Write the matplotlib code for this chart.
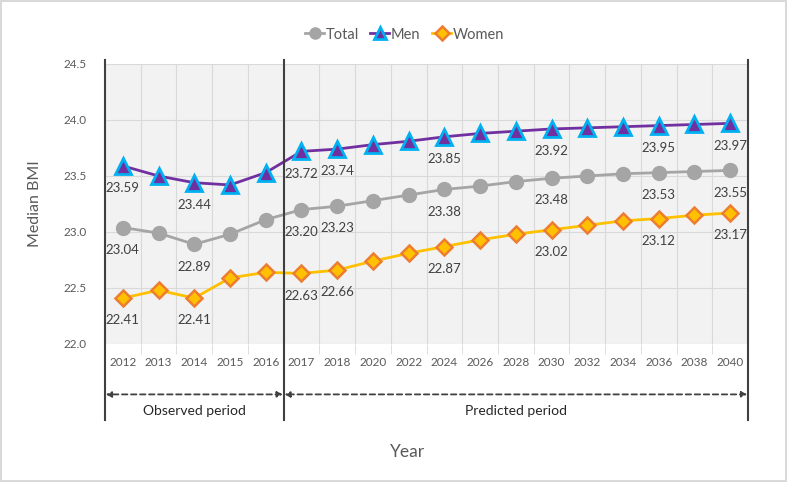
import matplotlib.pyplot as plt
import numpy as np

plt.rcParams['font.family'] = ['Lato', 'DejaVu Sans']

# data
years = ['2012', '2013', '2014', '2015', '2016', '2017', '2018', '2020', '2022',
         '2024', '2026', '2028', '2030', '2032', '2034', '2036', '2038', '2040']
total = [23.04, 22.99, 22.89, 22.98, 23.11, 23.20, 23.23, 23.28, 23.33,
         23.38, 23.41, 23.45, 23.48, 23.50, 23.52, 23.53, 23.54, 23.55]
men = [23.59, 23.50, 23.44, 23.42, 23.53, 23.72, 23.74, 23.78, 23.81,
       23.85, 23.88, 23.90, 23.92, 23.93, 23.94, 23.95, 23.96, 23.97]
women = [22.41, 22.48, 22.41, 22.59, 22.64, 22.63, 22.66, 22.74, 22.81,
         22.87, 22.93, 22.98, 23.02, 23.06, 23.10, 23.12, 23.15, 23.17]
labelled = ['2012', '2014', '2017', '2018', '2024', '2030', '2036', '2040']
n_observed = 5

fig = plt.figure(figsize=(7.87, 4.82), dpi=100)
fig.patch.set_edgecolor('#d9d9d9')
fig.patch.set_linewidth(1.5)
ax = fig.add_axes([105 / 787, 1 - 344 / 482, 643 / 787, 280 / 482])
ax.set_facecolor('#f2f2f2')

x = np.arange(len(years))
ax.plot(x, total, color='#a5a5a5', lw=2, marker='o', ms=10,
        mfc='#a5a5a5', mec='#a5a5a5', label='Total', zorder=3)
ax.plot(x, men, color='#7030a0', lw=2, marker='^', ms=11,
        mfc='#7030a0', mec='#00b0f0', mew=2, label='Men', zorder=4)
ax.plot(x, women, color='#ffc000', lw=2, marker='D', ms=8.5,
        mfc='#ffc000', mec='#ed7d31', mew=1.8, label='Women', zorder=3)

for series in (total, men, women):
    for i, yr in enumerate(years):
        if yr in labelled:
            ax.annotate(f'{series[i]:.2f}', (x[i], series[i]), xytext=(0, -16),
                        textcoords='offset points', ha='center', va='center',
                        fontsize=9.5, color='#404040', zorder=5)

ax.set_xlim(-0.5, len(years) - 0.5)
ax.set_ylim(22.0, 24.5)
ax.set_yticks(np.arange(22.0, 24.51, 0.5))
ax.set_yticklabels([f'{v:.1f}' for v in np.arange(22.0, 24.51, 0.5)])
ax.set_xticks(x)
ax.set_xticklabels(years)
ax.set_xticks(np.arange(-0.5, len(years)), minor=True)
ax.tick_params(axis='x', which='major', length=0, pad=9, labelsize=8.5, colors='#595959')
ax.tick_params(axis='x', which='minor', length=7, color='#d9d9d9')
ax.tick_params(axis='y', length=0, pad=13, labelsize=8.5, colors='#595959')
ax.grid(True, which='minor', axis='x', color='#d9d9d9', lw=0.8)
ax.grid(True, which='major', axis='y', color='#d9d9d9', lw=0.8)
ax.set_axisbelow(True)
for s in ax.spines.values():
    s.set_visible(False)

fig.text(35 / 787, 1 - 204 / 482, 'Median BMI', rotation=90, ha='center', va='center',
         fontsize=11.5, color='#595959')
fig.text(408 / 787, 1 - 452 / 482, 'Year', ha='center', va='center',
         fontsize=12.5, color='#595959')

# period separators and arrows
trans = ax.get_xaxis_transform()
for xv in (-0.5, n_observed - 0.5, len(years) - 0.5):
    ax.plot([xv, xv], [1.013, -0.27], transform=trans, color='#404040',
            lw=1.5, clip_on=False, zorder=6)
for x0, x1, txt in ((-0.5, n_observed - 0.5, 'Observed period'),
                    (n_observed - 0.5, len(years) - 0.5, 'Predicted period')):
    ax.annotate('', xy=(x0 + 0.02, -0.18), xytext=(x1 - 0.02, -0.18),
                xycoords=trans, textcoords=trans,
                arrowprops=dict(arrowstyle='<|-|>', ls=(0, (3, 2)), lw=1.3,
                                color='#404040', mutation_scale=8, shrinkA=0, shrinkB=0))
    ax.text((x0 + x1) / 2, -0.24, txt, transform=trans, ha='center', va='center',
            fontsize=10, color='#262626')

fig.legend(loc='upper center', bbox_to_anchor=(0.514, 0.97), ncol=3, frameon=False,
           fontsize=10.5, handlelength=1.3, handletextpad=0.1, columnspacing=0.8,
           labelcolor='#595959', markerscale=0.8)

fig.savefig('out.png', dpi=100)
